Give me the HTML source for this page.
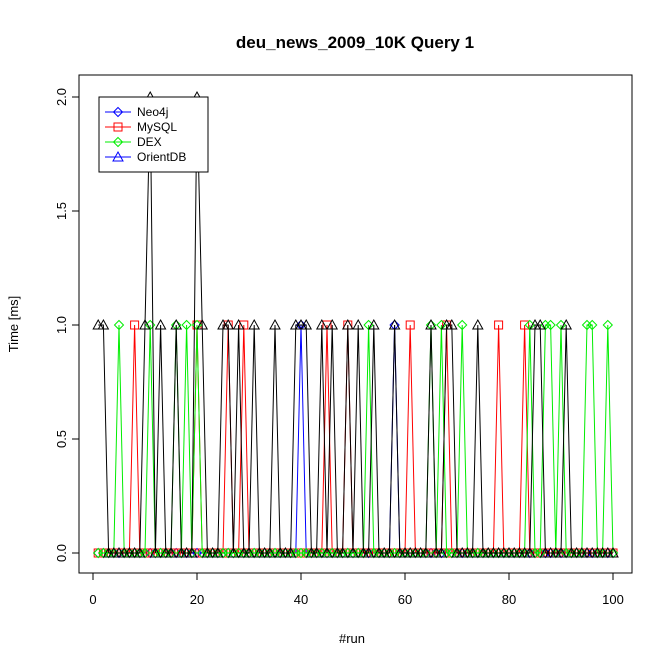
<!DOCTYPE html>
<html><head><meta charset="utf-8"><style>
body{margin:0;background:#fff;}
svg{display:block;font-family:"Liberation Sans",Arial,sans-serif;}
</style></head><body>
<svg id="chart" width="672" height="671">
<text x="355" y="48" text-anchor="middle" font-size="17" font-weight="bold">deu_news_2009_10K Query 1</text>
<rect x="79" y="75" width="553" height="498" fill="none" stroke="#000"/>
<text x="352" y="643" text-anchor="middle" font-size="13">#run</text>
<text transform="translate(18,324) rotate(-90)" text-anchor="middle" font-size="13">Time [ms]</text>
<g id="axes"></g>
<g id="series"></g>
<g id="legend">
<rect x="99" y="97" width="109" height="75" fill="#fff" stroke="#000"/>
</g>
</svg>
<script>
const runs = Array.from({length:100},(_,i)=>i+1);
const neo4jHigh = [40,58];
const mysqlHigh = [8,20,26,29,45,49,61,68,78,83];
const dexHigh = [5,11,16,18,20,53,65,67,71,84,87,88,90,95,96,99];
const orientHigh = [1,2,10,13,16,21,25,26,28,31,35,39,40,41,44,46,49,51,54,58,65,68,69,74,85,86,91];
const orientPeaks = [11,20];
const xTicks = [0,20,40,60,80,100];
const yTicks = [0,0.5,1,1.5,2];
const yTickLabels = ["0.0","0.5","1.0","1.5","2.0"];
const seriesNames = ["Neo4j","MySQL","DEX","OrientDB"];

function build(high, peaks){return runs.map(r=>peaks&&peaks.includes(r)?2:(high.includes(r)?1:0));}
const neo4j = build(neo4jHigh);
const mysql = build(mysqlHigh);
const dex = build(dexHigh);
const orient = build(orientHigh, orientPeaks);

const X = v => 93 + (v)*5.2;
const Y = v => 553 - v*228;
const NS="http://www.w3.org/2000/svg";
function mk(tag, attrs, parent){const e=document.createElementNS(NS,tag);for(const k in attrs)e.setAttribute(k,attrs[k]);parent.appendChild(e);return e;}
const axes=document.getElementById('axes');
mk('line',{x1:X(0),x2:X(100),y1:573,y2:573,stroke:'#000'},axes);
mk('line',{x1:79,x2:79,y1:Y(0),y2:Y(2),stroke:'#000'},axes);
xTicks.forEach(t=>{
  const l=mk('line',{x1:X(t),x2:X(t),y1:573,y2:580,stroke:'#000'},axes);
  
  
  const tx=mk('text',{x:X(t),y:604,'text-anchor':'middle','font-size':13},axes);
  tx.textContent=t;
  
  
});
yTicks.forEach((t,i)=>{
  const l=mk('line',{x1:72,x2:79,y1:Y(t),y2:Y(t),stroke:'#000'},axes);
  
  
  const tx=mk('text',{transform:`translate(66,${Y(t)}) rotate(-90)`,'text-anchor':'middle','font-size':13},axes);
  tx.textContent=yTickLabels[i];
  
  
});
function marker(type,x,y,color,parent){
  let e;
  if(type==='diamond') e=mk('polygon',{points:`${x},${y-4.5} ${x+4.5},${y} ${x},${y+4.5} ${x-4.5},${y}`,fill:'none',stroke:color},parent);
  else if(type==='square') e=mk('rect',{x:x-4,y:y-4,width:8,height:8,fill:'none',stroke:color},parent);
  else e=mk('polygon',{points:`${x},${y-5} ${x+5},${y+4} ${x-5},${y+4}`,fill:'none',stroke:color},parent);
  return e;
}
const sg=document.getElementById('series');
const defs=[[neo4j,'#0000ff','diamond','neo4j'],[mysql,'#ff0000','square','mysql'],[dex,'#00ee00','diamond','dex'],[orient,'#000','triangle','orientdb']];
defs.forEach(([vals,col,m,name])=>{
  const g=mk('g',{},sg);
  
  
  const p=mk('polyline',{points:vals.map((v,i)=>X(runs[i])+','+Y(v)).join(' '),fill:'none',stroke:col,'stroke-width':1},g);
  
  
  vals.forEach((v,i)=>{
    const e=marker(m,X(runs[i]),Y(v),col,g);
    
    
  });
});
const lg=document.getElementById('legend');
const lcols=['#0000ff','#ff0000','#00ee00','#0000ff'];
const lmk=['diamond','square','diamond','triangle'];
seriesNames.forEach((n,i)=>{
  const y=112+i*15;
  const l=mk('line',{x1:105,x2:131,y1:y,y2:y,stroke:lcols[i]},lg);
  
  
  const e=marker(lmk[i],118,y,lcols[i],lg);
  
  
  const t=mk('text',{x:137,y:y+4,'font-size':12},lg);
  t.textContent=n;
  
  
});
</script>
</body></html>
